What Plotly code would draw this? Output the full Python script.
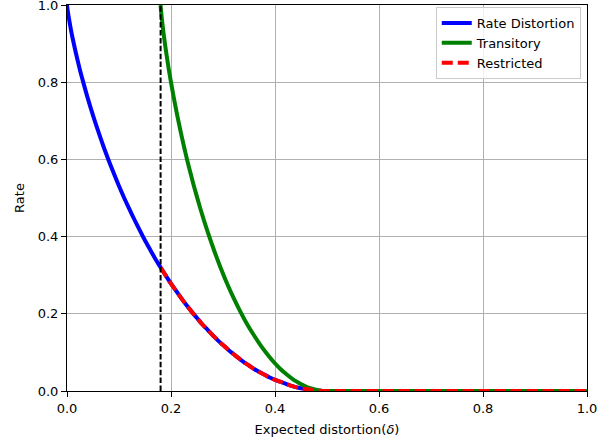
import plotly.graph_objects as go

# Rate Distortion curve
rd_x = [0.0, 0.001, 0.0025, 0.005, 0.0075, 0.01, 0.015, 0.02, 0.025, 0.03, 0.04, 0.05, 0.06,
        0.07, 0.08, 0.09, 0.10, 0.11, 0.12, 0.13, 0.14, 0.15, 0.16, 0.17, 0.18, 0.19, 0.20,
        0.21, 0.22, 0.23, 0.24, 0.25, 0.26, 0.27, 0.28, 0.29, 0.30, 0.31, 0.32, 0.33, 0.34,
        0.35, 0.36, 0.37, 0.38, 0.39, 0.40, 0.41, 0.42, 0.43, 0.44, 0.45, 0.46, 0.47, 0.48,
        0.49, 0.50, 1.0]
rd_y = [1.0, 0.989, 0.975, 0.955, 0.936, 0.919, 0.888, 0.859, 0.831, 0.806, 0.758, 0.714,
        0.673, 0.634, 0.598, 0.564, 0.531, 0.500, 0.471, 0.443, 0.416, 0.390, 0.366, 0.342,
        0.320, 0.299, 0.278, 0.259, 0.240, 0.222, 0.205, 0.189, 0.173, 0.159, 0.145, 0.131,
        0.119, 0.107, 0.096, 0.085, 0.075, 0.066, 0.057, 0.049, 0.042, 0.035, 0.029, 0.024,
        0.019, 0.014, 0.010, 0.007, 0.005, 0.003, 0.001, 0.0003, 0.0, 0.0]

# Transitory curve
tr_x = [0.180, 0.1806, 0.1816, 0.1832, 0.1848, 0.1864, 0.1896, 0.1928, 0.196, 0.1992, 0.2056,
        0.212, 0.2184, 0.2248, 0.2312, 0.2376, 0.244, 0.2568, 0.2696, 0.2824, 0.2952, 0.308,
        0.3208, 0.3336, 0.3464, 0.3592, 0.372, 0.3848, 0.3976, 0.4104, 0.4232, 0.436, 0.4488,
        0.4616, 0.4744, 0.4872, 0.500, 1.0]
tr_y = [1.0, 0.989, 0.975, 0.955, 0.936, 0.919, 0.888, 0.859, 0.831, 0.806, 0.758, 0.714,
        0.673, 0.634, 0.598, 0.564, 0.531, 0.471, 0.416, 0.366, 0.320, 0.278, 0.240, 0.205,
        0.173, 0.145, 0.119, 0.096, 0.075, 0.057, 0.042, 0.029, 0.019, 0.010, 0.005, 0.001,
        0.0, 0.0]

# Restricted curve
rs_x = [0.18, 0.19, 0.20, 0.21, 0.22, 0.23, 0.24, 0.25, 0.26, 0.27, 0.28, 0.29, 0.30, 0.31,
        0.32, 0.33, 0.34, 0.35, 0.36, 0.37, 0.38, 0.39, 0.40, 0.41, 0.42, 0.43, 0.44, 0.45,
        0.46, 0.47, 0.48, 0.49, 0.50, 1.0]
rs_y = [0.320, 0.299, 0.278, 0.259, 0.240, 0.222, 0.205, 0.189, 0.173, 0.159, 0.145, 0.131,
        0.119, 0.107, 0.096, 0.085, 0.075, 0.066, 0.057, 0.049, 0.042, 0.035, 0.029, 0.024,
        0.019, 0.014, 0.010, 0.007, 0.005, 0.003, 0.001, 0.0003, 0.0, 0.0]

# Threshold (vertical dashed line)
thr_x = [0.18, 0.18]
thr_y = [0.0, 1.0]

x_ticks = [0.0, 0.2, 0.4, 0.6, 0.8, 1.0]
x_tick_labels = ["0.0", "0.2", "0.4", "0.6", "0.8", "1.0"]
y_ticks = [0.0, 0.2, 0.4, 0.6, 0.8, 1.0]
y_tick_labels = ["0.0", "0.2", "0.4", "0.6", "0.8", "1.0"]

fig = go.Figure()
fig.add_trace(go.Scatter(x=rd_x, y=rd_y, mode="lines", name="Rate Distortion",
                         line=dict(color="#0000ff", width=4, shape="spline", smoothing=0.8)))
fig.add_trace(go.Scatter(x=tr_x, y=tr_y, mode="lines", name="Transitory",
                         line=dict(color="#008000", width=4, shape="spline", smoothing=0.8)))
fig.add_trace(go.Scatter(x=rs_x, y=rs_y, mode="lines", name="Restricted",
                         line=dict(color="#ff0000", width=4, dash="11px,5px",
                                   shape="spline", smoothing=0.8)))
fig.add_trace(go.Scatter(x=thr_x, y=thr_y, mode="lines", showlegend=False,
                         line=dict(color="black", width=2, dash="5.5px,2.4px")))

axis_common = dict(
    showline=True, linecolor="black", linewidth=1, mirror=True,
    showgrid=True, gridcolor="#b0b0b0", gridwidth=1,
    ticks="outside", ticklen=5, tickwidth=1, tickcolor="black",
    zeroline=False, tickfont=dict(size=13, color="black"),
    automargin=False, ticklabeloverflow="allow",
)

fig.update_xaxes(range=[0, 1], tickvals=x_ticks, ticktext=x_tick_labels,
                 title=dict(text="Expected distortion(<i>δ</i>)", font=dict(size=13, color="black"),
                            standoff=10),
                 **axis_common)
fig.update_yaxes(range=[0, 1], tickvals=y_ticks, ticktext=y_tick_labels,
                 title=dict(text="Rate", font=dict(size=13, color="black"), standoff=10),
                 **axis_common)

fig.update_layout(
    width=613, height=444,
    margin=dict(l=67, r=26, t=5, b=53),
    paper_bgcolor="white", plot_bgcolor="white",
    font=dict(family="DejaVu Sans", size=13, color="black"),
    legend=dict(x=0.988, y=0.995, xanchor="right", yanchor="top",
                bgcolor="rgba(255,255,255,0.8)", bordercolor="#cccccc", borderwidth=1,
                font=dict(size=13)),
)

fig.write_html("out.html", config={"displayModeBar": False},
               post_script="document.body.style.margin='0';")
